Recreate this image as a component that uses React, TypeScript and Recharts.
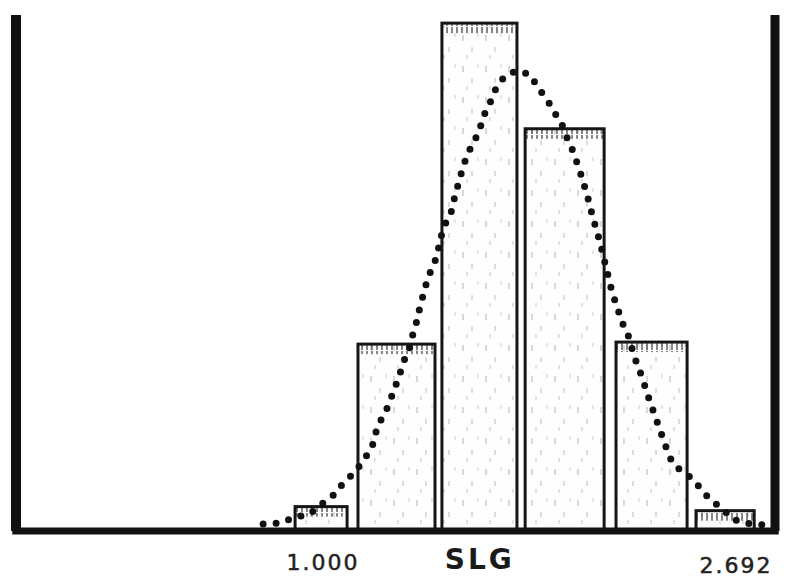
import React from "react";
import {
  ComposedChart,
  Line,
  XAxis,
  YAxis,
  ReferenceArea,
  ReferenceLine,
} from "recharts";

// histogram bins (SLG)
const binStart = [0.887, 1.141, 1.48, 1.816, 2.183, 2.506];
const binEnd = [1.097, 1.452, 1.783, 2.135, 2.47, 2.741];
const binCounts = [1.2, 9.2, 25, 19.8, 9.3, 1.0];

// dotted fitted curve
const curveX = [
  0.758, 0.826, 0.879, 0.947, 1.0, 1.048, 1.081, 1.125, 1.165, 1.198, 1.218,
  1.242, 1.266, 1.283, 1.307, 1.323, 1.347, 1.363, 1.38, 1.392, 1.408, 1.424,
  1.448, 1.464, 1.476, 1.497, 1.521, 1.533, 1.549, 1.565, 1.586, 1.614, 1.634,
  1.654, 1.678, 1.699, 1.735, 1.783, 1.836, 1.868, 1.905, 1.933, 1.969, 1.985,
  2.01, 2.038, 2.066, 2.09, 2.119, 2.143, 2.167, 2.191, 2.212, 2.236, 2.252,
  2.272, 2.288, 2.308, 2.329, 2.349, 2.369, 2.389, 2.409, 2.442, 2.482, 2.527,
  2.563, 2.611, 2.652, 2.708, 2.773,
];
const curveY = [
  0.34, 0.39, 0.64, 0.84, 1.38, 1.82, 2.36, 2.86, 3.5, 4.14, 5.07, 5.67, 6.21,
  6.85, 7.59, 8.28, 8.92, 9.7, 10.39, 11.08, 11.77, 12.51, 13.1, 13.79, 14.48,
  15.22, 15.81, 16.55, 17.19, 17.93, 18.62, 19.26, 19.85, 20.59, 21.18, 21.82,
  22.41, 22.66, 22.46, 21.82, 21.23, 20.64, 19.9, 19.36, 18.67, 17.68, 16.55,
  15.42, 14.19, 12.96, 11.77, 10.89, 10.15, 9.51, 8.77, 8.08, 7.59, 6.8, 6.06,
  5.37, 4.68, 3.99, 3.4, 3.0, 2.66, 2.07, 1.53, 1.13, 0.59, 0.39, 0.3,
];

const tickValues = [1.0, 2.692];
const tickLabels = ["1.000", "2.692"];
const axisTitle = "SLG";

const X_MIN = -0.24;
const X_MAX = 2.825;
const Y_MAX = 25.4;

const curveData = curveX.map((x, i) => ({ x, y: curveY[i] }));

const BarShape = (props: any) => {
  const { x, y, width, height } = props;
  return (
    <g>
      <rect x={x} y={y} width={width} height={height} fill="url(#speck)" />
      {height > 12 && (
        <rect x={x} y={y + 1} width={width} height={9} fill="url(#ticks)" />
      )}
      <rect
        x={x}
        y={y}
        width={width}
        height={height}
        fill="none"
        stroke="#151515"
        strokeWidth={3}
      />
    </g>
  );
};

const Tick = (props: any) => {
  const { x, index } = props;
  return (
    <text
      x={index === 0 ? x : x - 6}
      y={index === 0 ? 570 : 573}
      textAnchor="middle"
      fontFamily="DejaVu Sans"
      fontSize={22}
      letterSpacing={2}
      stroke="#222"
      strokeWidth={0.5}
      fill="#222"
    >
      {tickLabels[index]}
    </text>
  );
};

export default function App() {
  return (
    <div style={{ position: "absolute", left: 0, top: 0, background: "#fff" }}>
      <ComposedChart
        width={790}
        height={578}
        data={curveData}
        margin={{ top: 15, right: 15, left: 16, bottom: 0 }}
      >
        <defs>
          <pattern
            id="speck"
            patternUnits="userSpaceOnUse"
            width={23}
            height={31}
          >
            <rect width={23} height={31} fill="#fefefe" />
            <line x1={3} y1={4} x2={3} y2={10} stroke="#c4c4c4" strokeWidth={1.3} />
            <line x1={12} y1={16} x2={12} y2={21} stroke="#cccccc" strokeWidth={1.3} />
            <line x1={18} y1={2} x2={18} y2={6} stroke="#d6d6d6" strokeWidth={1.2} />
            <line x1={7} y1={24} x2={7} y2={28} stroke="#d0d0d0" strokeWidth={1.2} />
          </pattern>
          <pattern id="ticks" patternUnits="userSpaceOnUse" width={5} height={9}>
            <line x1={2} y1={0} x2={2} y2={8} stroke="#444" strokeWidth={1.3} />
          </pattern>
        </defs>
        <XAxis
          dataKey="x"
          type="number"
          domain={[X_MIN, X_MAX]}
          allowDataOverflow
          ticks={tickValues}
          tick={<Tick />}
          axisLine={false}
          tickLine={false}
          height={47}
          label={{
            value: axisTitle,
            content: (p: any) => (
              <text
                x={p.viewBox.x + p.viewBox.width * 0.611}
                y={569}
                textAnchor="middle"
                fontFamily="DejaVu Sans"
                fontWeight="bold"
                fontSize={28}
                letterSpacing={3}
                fill="#1a1a1a"
              >
                {axisTitle}
              </text>
            ),
          }}
        />
        <YAxis hide type="number" domain={[0, Y_MAX]} allowDataOverflow />
        {binCounts.map((c, i) => (
          <ReferenceArea
            key={i}
            x1={binStart[i]}
            x2={binEnd[i]}
            y1={0}
            y2={c}
            ifOverflow="visible"
            shape={<BarShape />}
          />
        ))}
        <Line
          dataKey="y"
          type="linear"
          stroke="#111"
          strokeWidth={7}
          strokeDasharray="0 13"
          strokeLinecap="round"
          dot={false}
          activeDot={false}
          isAnimationActive={false}
        />
        <ReferenceLine x={X_MIN} stroke="#111" strokeWidth={10} />
        <ReferenceLine x={X_MAX} stroke="#111" strokeWidth={9} />
        <ReferenceLine
          segment={[
            { x: X_MIN - 0.015, y: 0 },
            { x: X_MAX + 0.015, y: 0 },
          ]}
          ifOverflow="visible"
          stroke="#111"
          strokeWidth={7}
        />
      </ComposedChart>
    </div>
  );
}
